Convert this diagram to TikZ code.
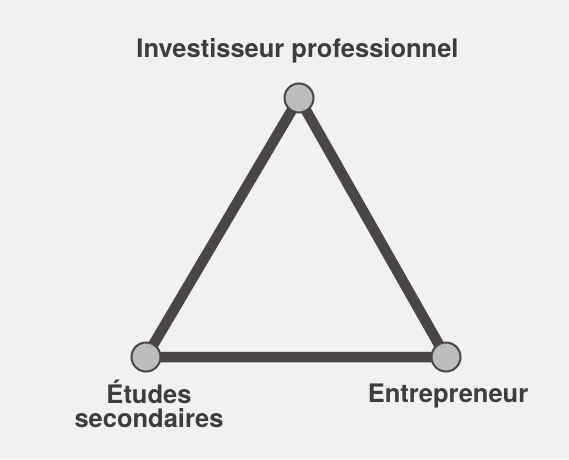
\documentclass[tikz,border=0pt]{standalone}
\usepackage{xcolor}
\usepackage{fontspec}
\setmainfont{TeX Gyre Heros}
\usepackage{tikz}
\usetikzlibrary{positioning,backgrounds}
\definecolor{paperGray}{RGB}{241,241,240}
\definecolor{edgeGray}{RGB}{74,70,70}
\definecolor{dotGray}{RGB}{188,188,188}
\definecolor{inkGray}{RGB}{62,60,60}
\tikzset{
  vertex/.style={draw=edgeGray,line width=2pt,circle,fill=dotGray,
                 minimum size=29pt,inner sep=0pt,outer sep=0pt},
  lbl/.style={font=\fontsize{25.5}{23.5}\selectfont\bfseries,text=inkGray,
              align=center,inner sep=0pt,outer sep=0pt},
  edge/.style={draw=edgeGray,line width=10.5pt,line join=round},
}
\begin{document}
\begin{tikzpicture}[x=1pt,y=1pt]
  \useasboundingbox (0,0) rectangle (569,459);
  \node[vertex] (inv) at (299,361) {};
  \node[vertex] (etu) at (146,102) {};
  \node[vertex] (ent) at (446,102) {};

  \node[lbl,above=20pt of inv,xshift=-1.5pt] (invlbl) {Investisseur professionnel};
  \node[lbl,below=9pt of etu,xshift=3pt] (etulbl) {Études\\secondaires};
  \node[lbl,below=12pt of ent,xshift=2pt] (entlbl) {Entrepreneur};

  \begin{scope}[on background layer]
    \fill[paperGray] (0,0) rectangle (569,459);
    \draw[edge] (inv.center) -- (etu.center) -- (ent.center) -- cycle;
  \end{scope}
\end{tikzpicture}
\end{document}
